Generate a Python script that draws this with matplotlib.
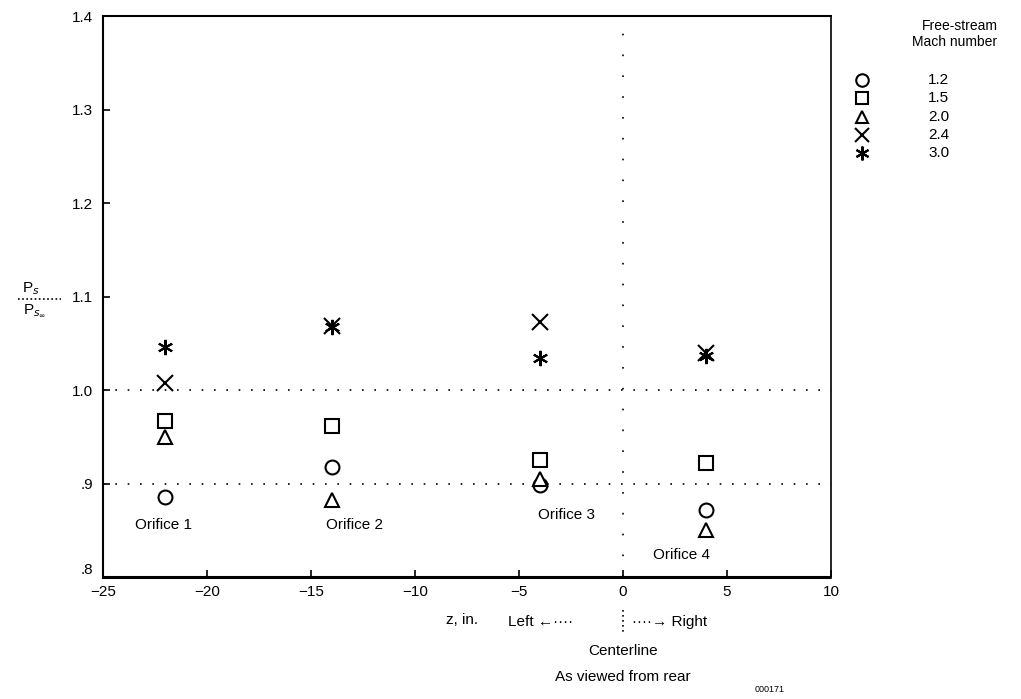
import matplotlib
matplotlib.use("Agg")
import matplotlib.pyplot as plt
from matplotlib.lines import Line2D

plt.rcParams['font.family'] = ['Liberation Sans', 'DejaVu Sans']

# Orifice positions (z, in.)
z_pos = [-22, -14, -4, 4]
orifice_labels = ["Orifice 1", "Orifice 2", "Orifice 3", "Orifice 4"]
mach_labels = ["1.2", "1.5", "2.0", "2.4", "3.0"]

# Ps / Ps_inf for each Mach number at each orifice
m12 = [0.886, 0.918, 0.898, 0.872]
m15 = [0.967, 0.962, 0.925, 0.922]
m20 = [0.950, 0.882, 0.905, 0.850]
m24 = [1.008, 1.068, 1.073, 1.040]
m30 = [1.046, 1.067, 1.034, 1.036]

series = [m12, m15, m20, m24, m30]
markers = ['o', 's', '^', 'x', (6, 2, 0)]

fig = plt.figure(figsize=(10.21, 6.99), dpi=100)
ax = fig.add_axes([0.1009, 0.1745, 0.7130, 0.8025])

ax.set_xlim(-25, 10)
ax.set_ylim(0.8, 1.4)

for vals, mk in zip(series, markers):
    if mk in ('x', (6, 2, 0)):
        ax.plot(z_pos, vals, linestyle='none', marker=mk, color='black',
                markersize=11, markeredgewidth=1.5)
    else:
        ax.plot(z_pos, vals, linestyle='none', marker=mk, markerfacecolor='white',
                markeredgecolor='black', markersize=10, markeredgewidth=1.5)

# reference lines
ax.axhline(1.0, color='black', linestyle=(0, (1, 6.4)), linewidth=1.2, zorder=0)
ax.axhline(0.9, color='black', linestyle=(0, (1, 6.4)), linewidth=1.2, zorder=0)
ax.axvline(0, color='black', linestyle=(0, (1, 11.5)), linewidth=1.2, zorder=0)

# orifice labels
lab_pos = [(-22.1, 0.856), (-12.9, 0.856), (-2.7, 0.866), (2.8, 0.824)]
for (x, y), t in zip(lab_pos, orifice_labels):
    ax.text(x, y, t, ha='center', va='center', fontsize=11)

ax.set_xticks([-25, -20, -15, -10, -5, 0, 5, 10])
ax.set_xticklabels(['\u221225', '\u221220', '\u221215', '\u221210', '\u22125', '0', '5', '10'], fontsize=11)
ax.set_yticks([0.8, 0.9, 1.0, 1.1, 1.2, 1.3, 1.4])
ax.set_yticklabels(['.8', '.9', '1.0', '1.1', '1.2', '1.3', '1.4'], fontsize=11)
ax.tick_params(direction='in', length=5, width=1.2, top=False, right=False)
ax.tick_params(axis='x', pad=6)
ax.tick_params(axis='y', pad=7)
for lbl in ax.get_yticklabels():
    if lbl.get_text() == '.8':
        lbl.set_verticalalignment('bottom')

ax.spines['left'].set_linestyle((0, (1, 1)))
ax.spines['left'].set_linewidth(1.5)
ax.spines['right'].set_linestyle((0, (1, 1)))
ax.spines['right'].set_linewidth(1.2)
ax.spines['bottom'].set_linestyle((0, (1, 0.6)))
ax.spines['bottom'].set_linewidth(2.2)
ax.spines['top'].set_linewidth(1.5)

# y-axis label as fraction
fig.text(0.030, 0.575, r'P$_s$', fontsize=11, ha='center', va='bottom')
fig.add_artist(Line2D([0.018, 0.060], [0.572, 0.572], color='black',
                      linestyle=(0, (1, 1.5)), linewidth=1.2, transform=fig.transFigure))
fig.text(0.034, 0.568, r'P$_{s_\infty}$', fontsize=11, ha='center', va='top')

# x-axis annotations
fig.text(462 / 1021, 1 - 620 / 699, 'z, in.', fontsize=11, ha='center', va='center')
fig.text(573 / 1021, 1 - 622 / 699, 'Left \u2190\u00b7\u00b7\u00b7\u00b7', fontsize=11, ha='right', va='center')
fig.add_artist(Line2D([623 / 1021, 623 / 1021], [1 - 610 / 699, 1 - 634 / 699], color='black',
                      linestyle=(0, (1, 2)), linewidth=1.2, transform=fig.transFigure))
fig.text(632 / 1021, 1 - 622 / 699, '\u00b7\u00b7\u00b7\u00b7\u2192 Right', fontsize=11, ha='left', va='center')
fig.text(623 / 1021, 1 - 651 / 699, 'Centerline', fontsize=11, ha='center', va='center')
fig.text(623 / 1021, 1 - 677 / 699, 'As viewed from rear', fontsize=11, ha='center', va='center')
fig.text(770 / 1021, 1 - 689 / 699, '000171', fontsize=6.5, ha='center', va='center')

# legend
fig.text(955 / 1021, 1 - 34 / 699, 'Free-stream\nMach number', fontsize=10, ha='center',
         va='center', linespacing=1.1, multialignment='right')
leg_y = [80, 98, 117, 135, 153]
for yy, mk, lab in zip(leg_y, markers, mach_labels):
    yf = 1 - yy / 699
    if mk in ('x', (6, 2, 0)):
        fig.add_artist(Line2D([862 / 1021], [yf], marker=mk, color='black', markersize=10,
                              markeredgewidth=1.5, linestyle='none', transform=fig.transFigure))
    else:
        fig.add_artist(Line2D([862 / 1021], [yf], marker=mk, markerfacecolor='white',
                              markeredgecolor='black', markersize=9, markeredgewidth=1.5,
                              linestyle='none', transform=fig.transFigure))
    fig.text(928 / 1021, yf, lab, fontsize=11, ha='left', va='center')

fig.savefig('out.png', dpi=100)
